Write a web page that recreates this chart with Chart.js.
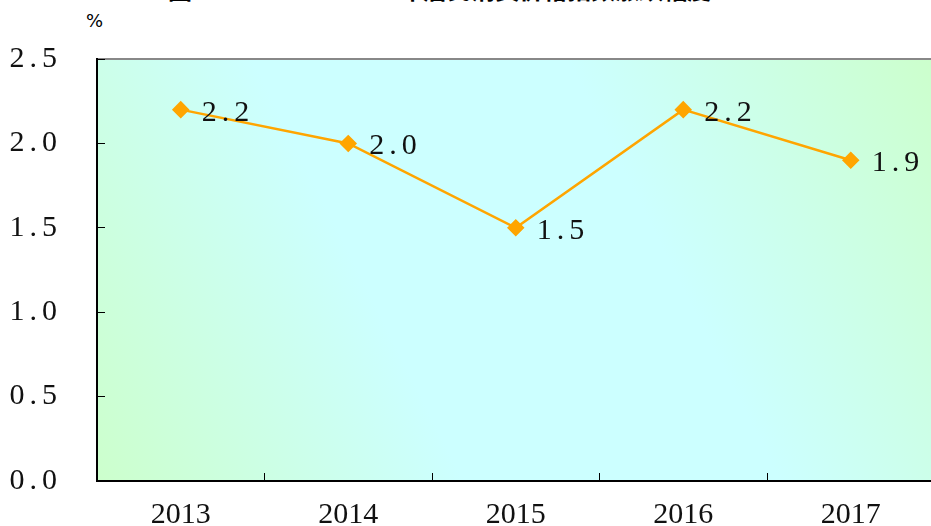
<!DOCTYPE html>
<html>
<head>
<meta charset="utf-8">
<script src="https://cdn.jsdelivr.net/npm/chart.js@4.4.0/dist/chart.umd.min.js"></script>
<style>
  html, body { margin: 0; padding: 0; background: #fff; overflow: hidden; }
  #wrap { position: relative; width: 931px; height: 526px; overflow: hidden; }
  .title { position: absolute; top: -29px; font: bold 24px "Noto Sans CJK SC", sans-serif; color: #000; white-space: pre; }
  #unit { position: absolute; top: 10px; left: 86px; font: 18px "DejaVu Sans", sans-serif; color: #000; }
  #line-canvas { position: absolute; left: 0; top: 0; }
</style>
</head>
<body>
<div id="wrap">
  <div class="title" style="left:168px">图1</div>
  <div class="title" style="left:277px">2013-2017年居民消费价格指数涨跌幅度</div>
  <div id="unit">%</div>
  <canvas id="line-canvas" width="944" height="526"></canvas>
</div>
<script>
var years = ['2013', '2014', '2015', '2016', '2017'];
var cpiChange = [2.2, 2.0, 1.5, 2.2, 1.9];
var yTicks = [0, 0.5, 1.0, 1.5, 2.0, 2.5];

var serifFont = { family: '"Liberation Serif", serif', size: 30 };

// gradient behind the plot: green corners, cyan band through the middle
var plotBackground = {
    id: 'plotBackground',
    beforeDraw: function (chart) {
        var a = chart.chartArea, ctx = chart.ctx;
        var g = ctx.createLinearGradient(a.left, a.bottom, a.right, a.top);
        g.addColorStop(0, '#ccffcc');
        g.addColorStop(0.35, '#ccffff');
        g.addColorStop(0.65, '#ccffff');
        g.addColorStop(1, '#ccffcc');
        ctx.save();
        ctx.fillStyle = g;
        ctx.fillRect(a.left, a.top, a.right - a.left, a.bottom - a.top);
        ctx.strokeStyle = '#888888';
        ctx.lineWidth = 2;
        ctx.beginPath();
        ctx.moveTo(a.left, a.top);
        ctx.lineTo(a.right, a.top);
        ctx.stroke();
        ctx.restore();

        // wider spacing for the y tick labels, like the original
        var y = chart.scales.y;
        if (!y._spaced) {
            var orig = y.drawLabels.bind(y);
            y.drawLabels = function (area) {
                chart.ctx.save();
                chart.ctx.letterSpacing = '5px';
                orig(area);
                chart.ctx.restore();
            };
            y._spaced = true;
        }
    }
};

// value labels to the right of each point
var pointLabels = {
    id: 'pointLabels',
    afterDatasetsDraw: function (chart) {
        var ctx = chart.ctx;
        var meta = chart.getDatasetMeta(0);
        ctx.save();
        ctx.font = serifFont.size + 'px ' + serifFont.family;
        ctx.letterSpacing = '5px';
        ctx.fillStyle = '#111';
        ctx.textBaseline = 'middle';
        meta.data.forEach(function (pt, i) {
            ctx.fillText(cpiChange[i].toFixed(1), pt.x + 21, pt.y + 3);
        });
        ctx.restore();
    }
};

new Chart('line-canvas', {
    type: 'line',
    data: {
        labels: years,
        datasets: [{
            data: cpiChange,
            borderColor: '#ffa500',
            backgroundColor: '#ffa500',
            borderWidth: 2.5,
            pointStyle: 'rectRot',
            pointRadius: 7,
            pointHoverRadius: 7,
            tension: 0
        }]
    },
    options: {
        responsive: false,
        animation: false,
        layout: { padding: { top: 59, right: 0, bottom: 0, left: 0 } },
        plugins: {
            legend: { display: false },
            tooltip: { enabled: false }
        },
        scales: {
            x: {
                offset: true,
                afterFit: function (axis) { axis.height = 45; },
                grid: {
                    display: true,
                    offset: true,
                    drawOnChartArea: false,
                    drawTicks: true,
                    tickLength: -8,
                    color: '#000'
                },
                border: { color: '#000', width: 2 },
                ticks: {
                    color: '#111',
                    font: serifFont,
                    padding: 24
                }
            },
            y: {
                min: 0,
                max: 2.5,
                afterFit: function (axis) {
                    axis.width = 97;
                    axis.paddingTop = 0;
                    axis.paddingBottom = 0;
                },
                afterBuildTicks: function (axis) {
                    axis.ticks = yTicks.map(function (v) { return { value: v }; });
                },
                grid: {
                    drawOnChartArea: false,
                    tickLength: -8,
                    color: '#000'
                },
                border: { color: '#000', width: 2 },
                ticks: {
                    color: '#111',
                    font: serifFont,
                    padding: 43,
                    callback: function (v) { return v.toFixed(1); }
                }
            }
        }
    },
    plugins: [plotBackground, pointLabels]
});
</script>
</body>
</html>
